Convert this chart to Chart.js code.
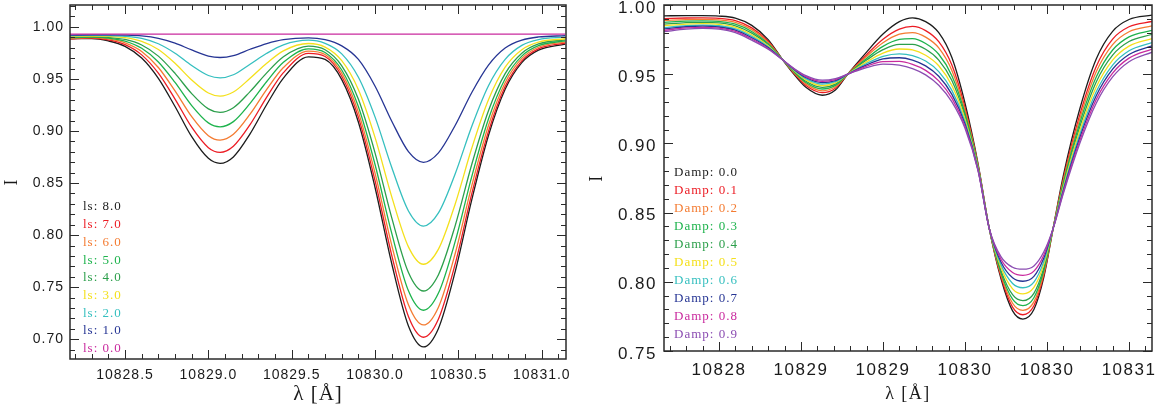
<!DOCTYPE html>
<html lang="en">
<head>
<meta charset="UTF-8">
<title>He I 10830 profiles</title>
<script src="https://cdn.jsdelivr.net/npm/chart.js"></script>
<style>
  * { margin: 0; padding: 0; box-sizing: border-box; }
  body { background: #fff; width: 1162px; height: 410px; overflow: hidden; position: relative; }
  canvas { position: absolute; top: 0; }
  #chartLeft { left: 0; }
  #chartRight { left: 580px; }
</style>
</head>
<body>
<canvas id="chartLeft" width="582" height="410"></canvas>
<canvas id="chartRight" width="582" height="410"></canvas>
<script>
// ---- left panel: line strength ----
const wlLeft = [10828.17, 10828.30, 10828.40, 10828.50, 10828.60, 10828.70, 10828.80, 10828.90, 10829.00, 10829.07,
  10829.15, 10829.25, 10829.35, 10829.45, 10829.60, 10829.70, 10829.80, 10829.90, 10830.00, 10830.10,
  10830.20, 10830.29, 10830.38, 10830.48, 10830.58, 10830.68, 10830.78, 10830.88, 10830.98, 10831.14];
const lsValues = ['8.0', '7.0', '6.0', '5.0', '4.0', '3.0', '2.0', '1.0', '0.0'];
const ls80 = [0.9886, 0.9888, 0.9865, 0.9813, 0.9701, 0.9506, 0.9235, 0.8945, 0.8737, 0.8689, 0.8751, 0.8972, 0.9254, 0.9508, 0.9712, 0.9687, 0.9493, 0.9084, 0.8455, 0.7725, 0.7128, 0.6926, 0.7104, 0.7646, 0.8340, 0.8957, 0.9401, 0.9657, 0.9777, 0.9835];
const ls70 = [0.9884, 0.9891, 0.9874, 0.9829, 0.9731, 0.9555, 0.9306, 0.9036, 0.8840, 0.8795, 0.8854, 0.9061, 0.9325, 0.9560, 0.9745, 0.9715, 0.9526, 0.9131, 0.8520, 0.7805, 0.7218, 0.7019, 0.7194, 0.7721, 0.8398, 0.8996, 0.9427, 0.9674, 0.9789, 0.9845];
const ls60 = [0.9890, 0.9897, 0.9884, 0.9847, 0.9764, 0.9610, 0.9385, 0.9137, 0.8955, 0.8913, 0.8968, 0.9161, 0.9399, 0.9609, 0.9767, 0.9734, 0.9555, 0.9179, 0.8592, 0.7902, 0.7331, 0.7137, 0.7308, 0.7821, 0.8476, 0.9053, 0.9464, 0.9697, 0.9804, 0.9856];
const ls50 = [0.9896, 0.9901, 0.9892, 0.9863, 0.9794, 0.9663, 0.9466, 0.9244, 0.9078, 0.9040, 0.9090, 0.9265, 0.9475, 0.9659, 0.9789, 0.9754, 0.9586, 0.9233, 0.8676, 0.8016, 0.7465, 0.7278, 0.7443, 0.7937, 0.8564, 0.9115, 0.9502, 0.9719, 0.9819, 0.9866];
const ls40 = [0.9902, 0.9906, 0.9899, 0.9879, 0.9826, 0.9719, 0.9553, 0.9359, 0.9212, 0.9178, 0.9223, 0.9378, 0.9558, 0.9713, 0.9815, 0.9780, 0.9626, 0.9304, 0.8788, 0.8165, 0.7641, 0.7463, 0.7620, 0.8089, 0.8681, 0.9195, 0.9551, 0.9747, 0.9836, 0.9876];
const ls30 = [0.9908, 0.9912, 0.9908, 0.9896, 0.9860, 0.9782, 0.9650, 0.9490, 0.9365, 0.9335, 0.9374, 0.9506, 0.9651, 0.9770, 0.9840, 0.9806, 0.9675, 0.9396, 0.8936, 0.8367, 0.7887, 0.7720, 0.7865, 0.8297, 0.8836, 0.9300, 0.9613, 0.9781, 0.9854, 0.9886];
const ls20 = [0.9914, 0.9918, 0.9916, 0.9909, 0.9889, 0.9838, 0.9747, 0.9629, 0.9533, 0.9510, 0.9540, 0.9641, 0.9746, 0.9828, 0.9872, 0.9842, 0.9741, 0.9516, 0.9133, 0.8649, 0.8232, 0.8087, 0.8213, 0.8587, 0.9046, 0.9435, 0.9688, 0.9822, 0.9878, 0.9901];
const ls10 = [0.9921, 0.9923, 0.9923, 0.9921, 0.9913, 0.9890, 0.9844, 0.9778, 0.9720, 0.9706, 0.9724, 0.9785, 0.9840, 0.9878, 0.9895, 0.9877, 0.9817, 0.9687, 0.9430, 0.9094, 0.8802, 0.8699, 0.8790, 0.9053, 0.9370, 0.9633, 0.9797, 0.9873, 0.9903, 0.9915];
const ls00 = [0.993, 0.993, 0.993, 0.993, 0.993, 0.993, 0.993, 0.993, 0.993, 0.993, 0.993, 0.993, 0.993, 0.993, 0.993, 0.993, 0.993, 0.993, 0.993, 0.993, 0.993, 0.993, 0.993, 0.993, 0.993, 0.993, 0.993, 0.993, 0.993, 0.993];

// ---- right panel: damping ----
const wlRight = [10828.165, 10828.30, 10828.40, 10828.50, 10828.60, 10828.70, 10828.80, 10828.89, 10828.95, 10829.03,
  10829.13, 10829.21, 10829.285, 10829.40, 10829.50, 10829.60, 10829.68, 10829.76, 10829.84, 10829.92,
  10830.00, 10830.08, 10830.148, 10830.22, 10830.29, 10830.353, 10830.42, 10830.48, 10830.537, 10830.60,
  10830.70, 10830.80, 10830.90, 10831.00, 10831.14];
const dampValues = ['0.0', '0.1', '0.2', '0.3', '0.4', '0.5', '0.6', '0.7', '0.8', '0.9'];
const damp00 = [0.9922, 0.9923, 0.9923, 0.9920, 0.9905, 0.9853, 0.9750, 0.9602, 0.9510, 0.9405, 0.9348, 0.9385, 0.9500, 0.9660, 0.9790, 0.9880, 0.9907, 0.9880, 0.9800, 0.9620, 0.9290, 0.8850, 0.8384, 0.8020, 0.7790, 0.7731, 0.7800, 0.8030, 0.8384, 0.8770, 0.9250, 0.9610, 0.9810, 0.9895, 0.9927];
const damp01 = [0.9902, 0.9906, 0.9907, 0.9904, 0.9887, 0.9835, 0.9738, 0.9602, 0.9516, 0.9419, 0.9367, 0.9399, 0.9500, 0.9641, 0.9753, 0.9826, 0.9845, 0.9815, 0.9735, 0.9566, 0.9259, 0.8842, 0.8384, 0.8034, 0.7817, 0.7762, 0.7827, 0.8046, 0.8384, 0.8748, 0.9208, 0.9556, 0.9754, 0.9843, 0.9881];
const damp02 = [0.9889, 0.9895, 0.9896, 0.9892, 0.9875, 0.9822, 0.9730, 0.9602, 0.9521, 0.9430, 0.9380, 0.9409, 0.9500, 0.9628, 0.9727, 0.9789, 0.9801, 0.9768, 0.9690, 0.9527, 0.9238, 0.8836, 0.8384, 0.8048, 0.7845, 0.7794, 0.7855, 0.8062, 0.8384, 0.8732, 0.9178, 0.9517, 0.9714, 0.9807, 0.9849];
const damp03 = [0.9875, 0.9883, 0.9885, 0.9881, 0.9862, 0.9809, 0.9721, 0.9602, 0.9526, 0.9440, 0.9393, 0.9419, 0.9500, 0.9614, 0.9701, 0.9751, 0.9757, 0.9722, 0.9644, 0.9489, 0.9216, 0.8830, 0.8384, 0.8063, 0.7875, 0.7828, 0.7885, 0.8080, 0.8384, 0.8717, 0.9148, 0.9479, 0.9675, 0.9770, 0.9817];
const damp04 = [0.9862, 0.9873, 0.9875, 0.9871, 0.9850, 0.9797, 0.9714, 0.9602, 0.9530, 0.9449, 0.9405, 0.9428, 0.9500, 0.9602, 0.9677, 0.9716, 0.9716, 0.9680, 0.9602, 0.9454, 0.9196, 0.8824, 0.8384, 0.8079, 0.7907, 0.7864, 0.7917, 0.8099, 0.8384, 0.8702, 0.9120, 0.9444, 0.9638, 0.9736, 0.9788];
const damp05 = [0.9850, 0.9862, 0.9865, 0.9860, 0.9839, 0.9785, 0.9706, 0.9602, 0.9534, 0.9459, 0.9417, 0.9437, 0.9500, 0.9589, 0.9653, 0.9682, 0.9676, 0.9637, 0.9561, 0.9418, 0.9177, 0.8819, 0.8384, 0.8101, 0.7949, 0.7913, 0.7959, 0.8124, 0.8384, 0.8688, 0.9093, 0.9408, 0.9602, 0.9703, 0.9758];
const damp06 = [0.9837, 0.9851, 0.9855, 0.9850, 0.9827, 0.9773, 0.9698, 0.9602, 0.9538, 0.9468, 0.9429, 0.9446, 0.9500, 0.9577, 0.9629, 0.9647, 0.9635, 0.9595, 0.9519, 0.9383, 0.9157, 0.8813, 0.8384, 0.8121, 0.7988, 0.7957, 0.7998, 0.8146, 0.8384, 0.8674, 0.9065, 0.9373, 0.9566, 0.9669, 0.9729];
const damp07 = [0.9827, 0.9843, 0.9847, 0.9841, 0.9818, 0.9763, 0.9692, 0.9602, 0.9542, 0.9476, 0.9439, 0.9454, 0.9500, 0.9567, 0.9610, 0.9619, 0.9602, 0.9560, 0.9485, 0.9354, 0.9141, 0.8809, 0.8384, 0.8141, 0.8029, 0.8004, 0.8039, 0.8170, 0.8384, 0.8662, 0.9043, 0.9344, 0.9536, 0.9642, 0.9705];
const damp08 = [0.9817, 0.9834, 0.9839, 0.9833, 0.9809, 0.9754, 0.9686, 0.9602, 0.9545, 0.9483, 0.9448, 0.9461, 0.9500, 0.9558, 0.9591, 0.9592, 0.9571, 0.9528, 0.9452, 0.9327, 0.9125, 0.8804, 0.8384, 0.8161, 0.8067, 0.8047, 0.8077, 0.8192, 0.8384, 0.8651, 0.9021, 0.9317, 0.9508, 0.9616, 0.9682];
const damp09 = [0.9807, 0.9826, 0.9831, 0.9825, 0.9800, 0.9745, 0.9680, 0.9602, 0.9548, 0.9490, 0.9457, 0.9468, 0.9500, 0.9548, 0.9573, 0.9565, 0.9540, 0.9495, 0.9420, 0.9300, 0.9110, 0.8800, 0.8384, 0.8180, 0.8105, 0.8091, 0.8115, 0.8215, 0.8384, 0.8640, 0.9000, 0.9290, 0.9480, 0.9590, 0.9659];

// ---- tick labels ----
const xTicks = [10828.5, 10829.0, 10829.5, 10830.0, 10830.5, 10831.0];
const leftXLabels = ['10828.5', '10829.0', '10829.5', '10830.0', '10830.5', '10831.0'];
const rightXLabels = ['10828', '10829', '10829', '10830', '10830', '10831'];
const leftYTicks = [0.70, 0.75, 0.80, 0.85, 0.90, 0.95, 1.00];
const rightYTicks = [0.75, 0.80, 0.85, 0.90, 0.95, 1.00];

const palette = ['#1c1c1c', '#ec1c24', '#f47b31', '#1db34c', '#2c9f4b', '#f4e01c', '#35bfbf', '#263594', '#c92a9e', '#8b4db2'];
const leftColors = palette.slice(0, 8).concat(['#c92a9e']);

const ink = '#1a1a1a';
const sansFont = "'Liberation Sans', Arial, sans-serif";
const serifFont = "'Liberation Serif', 'Times New Roman', serif";

// inward ticks on all four sides + box, IDL style
const boxTicks = {
  id: 'boxTicks',
  beforeDraw(chart, args, o) {
    chart.ctx.letterSpacing = o.spacing;
  },
  afterDraw(chart) {
    const { ctx, chartArea: a, scales: { x, y } } = chart;
    ctx.save();
    ctx.strokeStyle = '#2a2a2a';
    ctx.lineWidth = 1;
    ctx.beginPath();
    for (let i = Math.ceil(x.min * 10); i <= Math.floor(x.max * 10); i++) {
      const len = i % 5 === 0 ? 9 : 5;
      const px = Math.round(x.getPixelForValue(i / 10)) + 0.5;
      ctx.moveTo(px, a.bottom); ctx.lineTo(px, a.bottom - len);
      ctx.moveTo(px, a.top); ctx.lineTo(px, a.top + len);
    }
    for (let i = Math.ceil(y.min * 100 - 1e-6); i <= Math.floor(y.max * 100 + 1e-6); i++) {
      const len = i % 5 === 0 ? 9 : 5;
      const py = Math.round(y.getPixelForValue(i / 100)) + 0.5;
      ctx.moveTo(a.left, py); ctx.lineTo(a.left + len, py);
      ctx.moveTo(a.right, py); ctx.lineTo(a.right - len, py);
    }
    ctx.stroke();
    ctx.lineWidth = 1.5;
    ctx.strokeRect(a.left, a.top, a.right - a.left, a.bottom - a.top);
    ctx.restore();
  }
};

// coloured text key inside the plot
const curveKey = {
  id: 'curveKey',
  afterDraw(chart, args, o) {
    const { ctx, chartArea } = chart;
    ctx.save();
    ctx.font = '13px ' + serifFont;
    ctx.letterSpacing = '1px';
    ctx.textBaseline = 'middle';
    ctx.textAlign = 'left';
    chart.data.datasets.forEach((ds, i) => {
      ctx.fillStyle = ds.borderColor;
      ctx.fillText(ds.label, chartArea.left + o.dx, o.y0 + i * o.step);
    });
    ctx.restore();
  }
};

function buildDatasets(wl, series, names, prefix, colors) {
  return series.map((vals, i) => ({
    label: prefix + names[i],
    data: wl.map((x, j) => ({ x, y: vals[j] })),
    borderColor: colors[i],
    order: series.length - i
  }));
}

function panelOptions(c) {
  return {
    responsive: false,
    animation: false,
    events: [],
    layout: { padding: { top: 5, right: c.padRight, bottom: 0, left: 0 } },
    elements: {
      point: { radius: 0 },
      line: { borderWidth: 1.3, cubicInterpolationMode: 'monotone', fill: false }
    },
    plugins: {
      legend: { display: false },
      tooltip: { enabled: false },
      boxTicks: { spacing: c.spacing },
      curveKey: c.key
    },
    scales: {
      x: {
        type: 'linear',
        min: c.xMin,
        max: c.xMax,
        grid: { display: false, drawTicks: false },
        border: { display: false },
        afterBuildTicks: s => { s.ticks = xTicks.map(v => ({ value: v })); },
        afterFit: s => { s.height = c.xHeight; s.paddingLeft = 0; s.paddingRight = 0; },
        ticks: {
          autoSkip: false, maxRotation: 0, padding: c.xPad, color: ink,
          font: { family: sansFont, size: c.tickSize },
          callback: (v, i) => c.xLabels[i]
        },
        title: {
          display: true, text: 'λ [Å]', color: ink,
          font: { family: serifFont, size: c.xTitleSize },
          padding: { top: 0, bottom: c.xTitlePad }
        }
      },
      y: {
        type: 'linear',
        min: c.yMin,
        max: c.yMax,
        grid: { display: false, drawTicks: false },
        border: { display: false },
        afterBuildTicks: s => { s.ticks = c.yTicks.map(v => ({ value: v })); },
        afterFit: s => { s.width = c.yWidth; s.paddingTop = 0; s.paddingBottom = 0; },
        ticks: {
          padding: c.yPad, color: ink, labelOffset: c.yLabelOffset,
          font: { family: sansFont, size: c.tickSize },
          callback: v => v.toFixed(2)
        },
        title: {
          display: true, text: 'I', color: ink,
          font: { family: serifFont, size: 18 },
          padding: { top: c.yTitlePad, bottom: 0 }
        }
      }
    }
  };
}

new Chart(document.getElementById('chartLeft'), {
  type: 'line',
  data: {
    datasets: buildDatasets(wlLeft, [ls80, ls70, ls60, ls50, ls40, ls30, ls20, ls10, ls00], lsValues, 'ls: ', leftColors)
  },
  options: panelOptions({
    padRight: 16, xHeight: 51, yWidth: 70,
    xMin: 10828.17, xMax: 10831.145, yMin: 0.681, yMax: 1.021,
    xLabels: leftXLabels, yTicks: leftYTicks,
    tickSize: 14, spacing: '1px', xPad: 8, yPad: 6, yLabelOffset: 0,
    xTitleSize: 21, xTitlePad: 3, yTitlePad: 1,
    key: { dx: 13, y0: 207, step: 17.7 }
  }),
  plugins: [boxTicks, curveKey]
});

new Chart(document.getElementById('chartRight'), {
  type: 'line',
  data: {
    datasets: buildDatasets(wlRight, [damp00, damp01, damp02, damp03, damp04, damp05, damp06, damp07, damp08, damp09], dampValues, 'Damp: ', palette)
  },
  options: panelOptions({
    padRight: 10, xHeight: 59, yWidth: 84,
    xMin: 10828.165, xMax: 10831.14, yMin: 0.75, yMax: 1.00,
    xLabels: rightXLabels, yTicks: rightYTicks,
    tickSize: 17, spacing: '1.5px', xPad: 9, yPad: 7, yLabelOffset: 3,
    xTitleSize: 18, xTitlePad: 5, yTitlePad: 6,
    key: { dx: 10, y0: 173, step: 18 }
  }),
  plugins: [boxTicks, curveKey]
});
</script>
</body>
</html>
